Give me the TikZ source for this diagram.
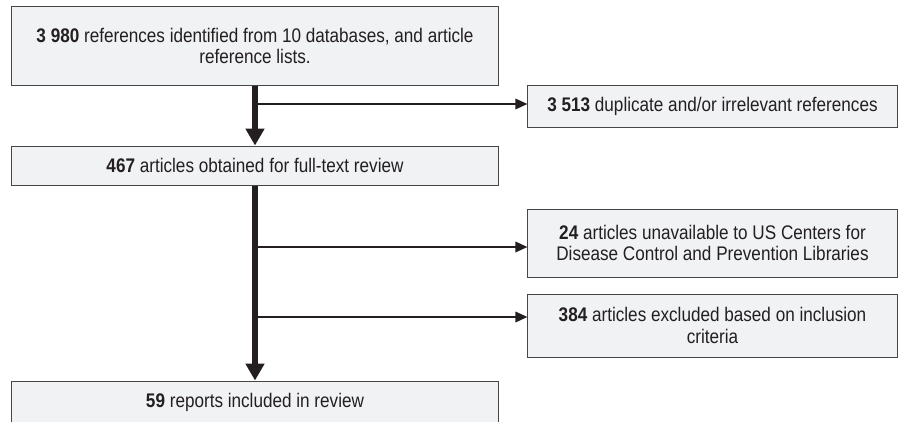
\documentclass[tikz,border=0pt]{standalone}
\usepackage{fontspec}
\setmainfont{Liberation Sans}[FakeStretch=0.87]
\usepackage{tikz}
\usepackage{xcolor}
\usetikzlibrary{arrows.meta}
\definecolor{boxgray}{RGB}{241,242,244}
\definecolor{edgegray}{RGB}{70,70,72}
\definecolor{arrowblack}{RGB}{35,31,32}

\begin{document}
\begin{tikzpicture}[x=0.025cm, y=-0.025cm,
        box/.style={rectangle, draw=edgegray, line width=0.7pt, fill=boxgray, align=center, inner sep=0pt, text=arrowblack, font=\fontsize{14}{15}\selectfont},
        trunk/.style={draw=arrowblack, line width=4.2pt, -{Triangle[length=0.42cm, width=0.45cm]}},
        branch/.style={draw=arrowblack, line width=1.4pt, -{Triangle[length=0.3cm, width=0.26cm]}}]
        \useasboundingbox (0, 0) rectangle (899, 421);

        \node[box, minimum width=12.15cm, minimum height=1.95cm] (b1) at (255, 46) {\textbf{3 980} references identified from 10 databases, and article\\reference lists.};
        \node[box, minimum width=12.15cm, minimum height=0.975cm] (b2) at (255, 165.5) {\textbf{467} articles obtained for full-text review};
        \node[box, minimum width=9.225cm, minimum height=1.05cm] (b3) at (712.5, 106) {\textbf{3 513} duplicate and/or irrelevant references};
        \node[box, minimum width=9.225cm, minimum height=1.7cm] (b4) at (712.5, 243) {\textbf{24} articles unavailable to US Centers for\\Disease Control and Prevention Libraries};
        \node[box, minimum width=9.225cm, minimum height=1.575cm] (b5) at (712.5, 325.5) {\textbf{384} articles excluded based on inclusion\\criteria};
        \node[box, minimum width=12.15cm, minimum height=1.05cm] (b6) at (255, 402) {\textbf{59} reports included in review};

        \coordinate (j1) at (255, 104);
        \coordinate (j2) at (255, 247);
        \coordinate (j3) at (255, 317);

        \draw[branch] (j1) to (j1 -| b3.west);
        \draw[branch] (j2) to (j2 -| b4.west);
        \draw[branch] (j3) to (j3 -| b5.west);
        \draw[trunk] (b1.south) to (b2.north);
        \draw[trunk] (b2.south) to (b6.north);
    \end{tikzpicture}
\end{document}
